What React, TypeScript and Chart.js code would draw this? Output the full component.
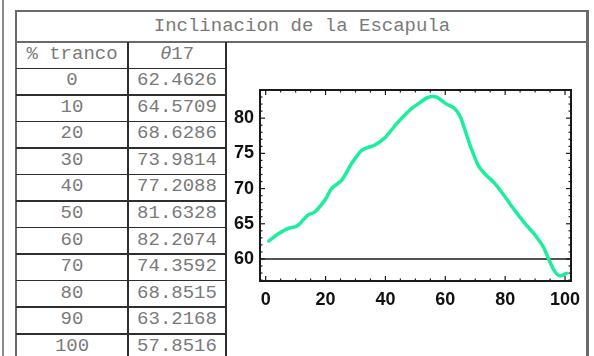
import React, { useEffect, useRef } from "react";
import { Chart, registerables } from "chart.js";

Chart.register(...registerables);

// ---------- data ----------
const TITLE = "Inclinacion de la Escapula";
const HEADER_PCT = "% tranco";
const HEADER_THETA_SYMBOL = "θ";
const HEADER_THETA_INDEX = "17";
const TABLE_PCT = ["0", "10", "20", "30", "40", "50", "60", "70", "80", "90", "100"];
const TABLE_THETA = [
  "62.4626", "64.5709", "68.6286", "73.9814", "77.2088", "81.6328",
  "82.2074", "74.3592", "68.8515", "63.2168", "57.8516",
];

const CURVE_X = [
  1, 4, 7.5, 10, 11.5, 14, 16.5, 20, 22, 25.4, 28.7, 32, 34, 36.5, 40, 43.7, 48, 51, 54,
  57, 60, 63, 65, 66.6, 68.5, 71, 73.2, 76.6, 80, 83.2, 86.6, 90, 92.7, 94.4, 96.6, 98.3, 100.5,
];
const CURVE_Y = [
  62.55, 63.5, 64.35, 64.6, 65.05, 66.2, 66.7, 68.5, 70.0, 71.2, 73.55, 75.4, 75.8, 76.2, 77.3,
  79.2, 81.1, 82.05, 82.9, 83.0, 82.1, 81.4, 80.2, 78.3, 75.9, 73.3, 72.1, 70.7, 68.8, 66.9,
  65.05, 63.4, 61.75, 60.1, 58.2, 57.6, 57.97,
];

const X_TICKS = [0, 20, 40, 60, 80, 100];
const Y_TICKS = [60, 65, 70, 75, 80];
const X_MIN = -1.9;
const X_MAX = 102;
const Y_MIN = 56.87;
const Y_MAX = 84.0;
const AXIS_LINE_Y = 60;

// ---------- styles ----------
const MONO = "'Liberation Mono', 'DejaVu Sans Mono', monospace";
const TEXT_GRAY = "#7a7a7a";
const FRAME_GRAY = "#6a6a6a";
const CELL_LINE = "#2e2e2e";
const CURVE_COLOR = "#1cee9d";

const ROW_TOP = 41.7;
const ROW_H = 26.55;
const COL1_LEFT = 16;
const COL1_RIGHT = 128;
const COL2_RIGHT = 226;

const frameTicksPlugin = {
  id: "frameTicks",
  beforeDatasetsDraw(chart: any) {
    const { ctx, chartArea: a, scales } = chart;
    const y = scales.y.getPixelForValue(AXIS_LINE_Y);
    ctx.save();
    ctx.strokeStyle = "#1a1a1a";
    ctx.lineWidth = 1.6;
    ctx.beginPath();
    ctx.moveTo(a.left, y);
    ctx.lineTo(a.right, y);
    ctx.stroke();
    ctx.restore();
  },
  afterDatasetsDraw(chart: any) {
    const { ctx, chartArea: a, scales } = chart;
    const xs = scales.x;
    const ys = scales.y;
    ctx.save();
    ctx.strokeStyle = "#1a1a1a";
    ctx.lineWidth = 2;
    ctx.strokeRect(a.left, a.top, a.right - a.left, a.bottom - a.top);
    ctx.lineWidth = 1.2;
    const seg = (x1: number, y1: number, x2: number, y2: number) => {
      ctx.beginPath();
      ctx.moveTo(x1, y1);
      ctx.lineTo(x2, y2);
      ctx.stroke();
    };
    // x ticks: minor every 5, major at X_TICKS
    for (let v = 0; v <= 100; v += 5) {
      const px = xs.getPixelForValue(v);
      const len = X_TICKS.includes(v) ? 5 : 2.5;
      seg(px, a.bottom, px, a.bottom - len);
      seg(px, a.top, px, a.top + len);
    }
    // y ticks: minor every 1, major at Y_TICKS
    for (let v = Math.ceil(Y_MIN); v <= Math.floor(Y_MAX); v += 1) {
      const py = ys.getPixelForValue(v);
      const len = Y_TICKS.includes(v) ? 5 : 2.5;
      seg(a.left, py, a.left + len, py);
      seg(a.right, py, a.right - len, py);
    }
    ctx.restore();
  },
};

function CurveChart() {
  const ref = useRef<HTMLCanvasElement | null>(null);
  useEffect(() => {
    if (!ref.current) return;
    const points = CURVE_X.map((x, i) => ({ x, y: CURVE_Y[i] }));
    const chart = new Chart(ref.current, {
      type: "scatter",
      data: {
        datasets: [
          {
            data: points,
            showLine: true,
            borderColor: CURVE_COLOR,
            borderWidth: 3.5,
            pointRadius: 0,
            tension: 0.25,
            borderCapStyle: "round",
            borderJoinStyle: "round",
          } as any,
        ],
      },
      options: {
        responsive: false,
        animation: false,
        devicePixelRatio: 1,
        layout: { padding: { left: 0, right: 23, top: 47, bottom: 0 } },
        plugins: { legend: { display: false }, tooltip: { enabled: false } },
        scales: {
          x: {
            type: "linear",
            min: X_MIN,
            max: X_MAX,
            border: { display: false },
            grid: { display: false, drawTicks: false },
            afterBuildTicks: (scale: any) => {
              scale.ticks = X_TICKS.map((v) => ({ value: v }));
            },
            afterFit: (scale: any) => {
              scale.height = 75;
            },
            ticks: {
              padding: 8,
              maxRotation: 0,
              color: "#111",
              font: { family: "'Liberation Sans', Arial, sans-serif", size: 18, weight: "bold" },
            },
          },
          y: {
            type: "linear",
            min: Y_MIN,
            max: Y_MAX,
            border: { display: false },
            grid: { display: false, drawTicks: false },
            afterBuildTicks: (scale: any) => {
              scale.ticks = Y_TICKS.map((v) => ({ value: v }));
            },
            afterFit: (scale: any) => {
              scale.width = 40;
            },
            ticks: {
              padding: 6,
              color: "#111",
              font: { family: "'Liberation Sans', Arial, sans-serif", size: 18, weight: "bold" },
            },
          },
        },
      },
      plugins: [frameTicksPlugin],
    });
    return () => chart.destroy();
  }, []);
  return (
    <canvas
      ref={ref}
      width={374}
      height={313}
      style={{ position: "absolute", left: 220, top: 43, width: 374, height: 313 }}
    />
  );
}

const cellText = (left: number, width: number, top: number, content: React.ReactNode, key: string) => (
  <div
    key={key}
    style={{
      position: "absolute",
      left,
      width,
      top,
      height: ROW_H,
      lineHeight: `${ROW_H - 2}px`,
      textAlign: "center",
      fontFamily: MONO,
      fontSize: 19,
      color: TEXT_GRAY,
      whiteSpace: "nowrap",
    }}
  >
    {content}
  </div>
);

export default function App() {
  const rows = TABLE_PCT.length + 1;
  const lines: React.ReactNode[] = [];
  for (let i = 1; i <= rows; i++) {
    const y = ROW_TOP + i * ROW_H;
    lines.push(
      <div
        key={"h" + i}
        style={{
          position: "absolute",
          left: COL1_LEFT,
          width: COL2_RIGHT - COL1_LEFT,
          top: y - 0.75,
          height: 1.5,
          background: CELL_LINE,
        }}
      />
    );
  }
  const texts: React.ReactNode[] = [];
  texts.push(cellText(COL1_LEFT, COL1_RIGHT - COL1_LEFT, ROW_TOP, HEADER_PCT, "hp"));
  texts.push(
    cellText(
      COL1_RIGHT,
      COL2_RIGHT - COL1_RIGHT,
      ROW_TOP,
      <span>
        <span style={{ fontStyle: "italic" }}>{HEADER_THETA_SYMBOL}</span>
        {HEADER_THETA_INDEX}
      </span>,
      "ht"
    )
  );
  TABLE_PCT.forEach((p, i) => {
    const top = ROW_TOP + (i + 1) * ROW_H;
    texts.push(cellText(COL1_LEFT, COL1_RIGHT - COL1_LEFT, top, p, "p" + i));
    texts.push(cellText(COL1_RIGHT, COL2_RIGHT - COL1_RIGHT, top, TABLE_THETA[i], "t" + i));
  });

  return (
    <div
      style={{
        position: "fixed",
        left: 0,
        top: 0,
        width: 594,
        height: 356,
        background: "#fff",
        overflow: "hidden",
      }}
    >
      {/* left edge line */}
      <div style={{ position: "absolute", left: 2, top: 0, width: 2, height: 356, background: "#8a8a8a" }} />
      {/* outer frame */}
      <div
        style={{
          position: "absolute",
          left: 15,
          top: 10,
          width: 589 - 15,
          height: 420,
          boxSizing: "border-box",
          borderTop: `2px solid ${FRAME_GRAY}`,
          borderLeft: `2px solid ${FRAME_GRAY}`,
          borderRight: `3px solid ${FRAME_GRAY}`,
        }}
      />
      {/* title row bottom line */}
      <div style={{ position: "absolute", left: 15, top: 41, width: 589 - 15, height: 2, background: FRAME_GRAY }} />
      {/* title */}
      <div
        style={{
          position: "absolute",
          left: 15,
          width: 589 - 15,
          top: 12,
          height: 29,
          lineHeight: "28px",
          textAlign: "center",
          fontFamily: MONO,
          fontSize: 19,
          color: TEXT_GRAY,
          whiteSpace: "nowrap",
        }}
      >
        {TITLE}
      </div>
      {/* column lines */}
      <div style={{ position: "absolute", left: COL1_RIGHT - 0.75, top: 42, width: 1.5, height: 320, background: CELL_LINE }} />
      <div style={{ position: "absolute", left: COL2_RIGHT - 0.75, top: 42, width: 1.5, height: 320, background: CELL_LINE }} />
      {lines}
      {texts}
      <CurveChart />
    </div>
  );
}
